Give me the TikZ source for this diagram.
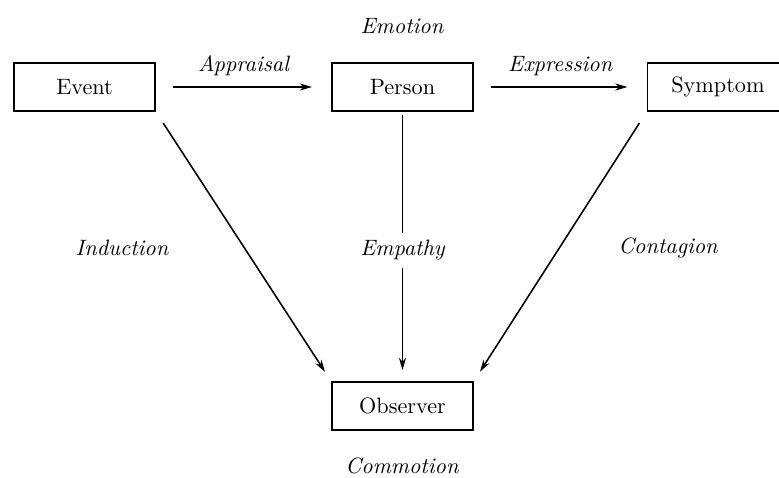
\documentclass[tikz,border=0pt]{standalone}
\usepackage{tikz}
\usetikzlibrary{arrows.meta}

\begin{document}
\begin{tikzpicture}[
        x=0.45pt,
        y=-0.45pt,
        box/.style={draw, line width=0.8pt, minimum width=63.5pt, minimum height=21.6pt, inner sep=0pt},
        link/.style={line width=0.7pt, -{Stealth[length=5.5pt, width=3.2pt]}},
        hlink/.style={link, shorten <=7.8pt, shorten >=8.6pt},
        dlink/.style={link, shorten <=6pt, shorten >=5pt},
        lbl/.style={font=\itshape},
    ]
    \useasboundingbox (0,0) rectangle (779,477);

    % boxes
    \node[box] (event) at (84.5,87) {Event};
    \node[box] (person) at (402.5,87) {Person};
    \node[box] (symptom) at (718,87) {Symptom};
    \node[box] (observer) at (402.5,406) {Observer};

    % titles
    \node[lbl] (emotion) at (402,26) {Emotion};
    \node[lbl] (commotion) at (402,466) {Commotion};

    % connectors
    \draw[hlink] (event) -- node[lbl, above=1.5pt] (appraisal) {Appraisal} (person);
    \draw[hlink] (person) -- node[lbl, above=1.5pt] (expression) {Expression} (symptom);
    \draw[dlink] (event.south east) -- (observer.north west);
    \draw[dlink] (symptom.south west) -- (observer.north east);
    \draw[link, shorten <=1.5pt, shorten >=5pt] (person) -- node[lbl, fill=white, pos=0.515] (empathy) {Empathy} (observer);

    \node[lbl] (induction) at (122,248) {Induction};
    \node[lbl] (contagion) at (668,248) {Contagion};
\end{tikzpicture}
\end{document}
